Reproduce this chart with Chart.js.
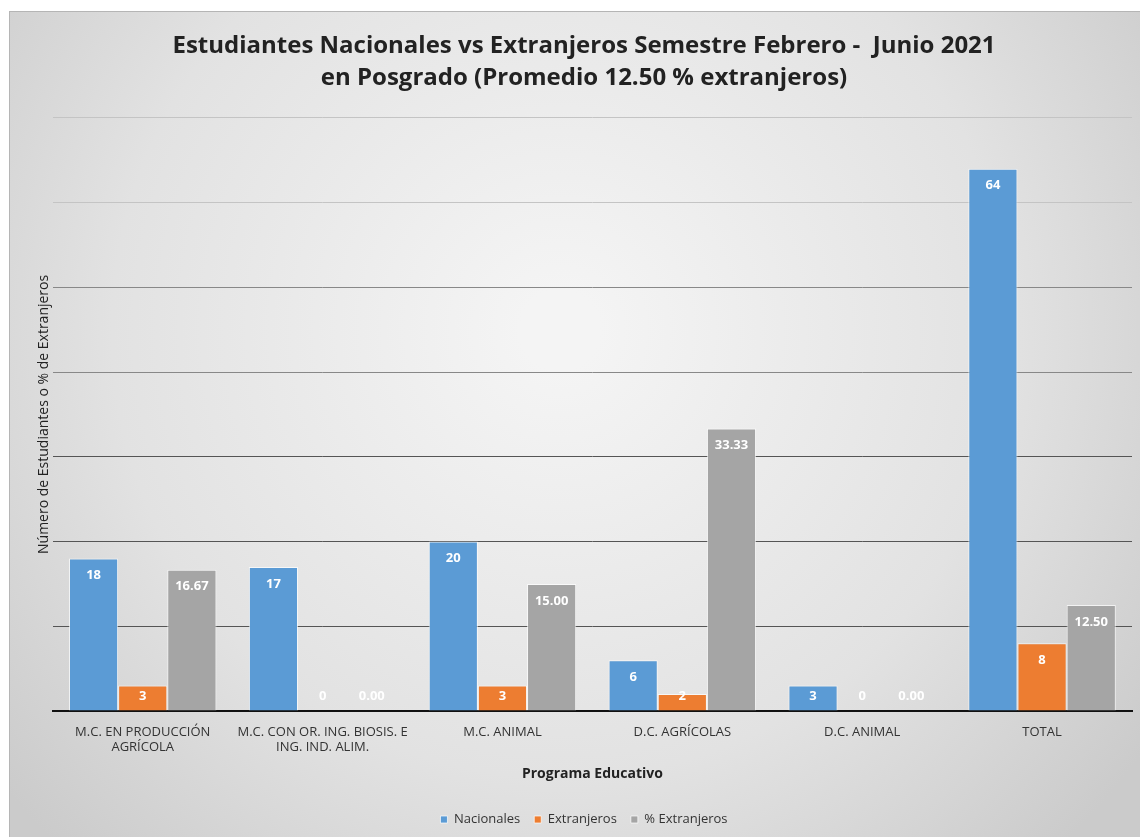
<!DOCTYPE html>
<html>
<head>
<meta charset="utf-8">
<script src="https://cdn.jsdelivr.net/npm/chart.js@4.4.0/dist/chart.umd.min.js"></script>
<style>
  html, body { margin: 0; padding: 0; background: #fff; }
  #wrap { width: 1140px; height: 837px; }
</style>
</head>
<body>
<div id="wrap"><canvas id="chart" width="1140" height="837"></canvas></div>
<script>
const programas = [
    ['M.C. EN PRODUCCIÓN', 'AGRÍCOLA'],
    ['M.C. CON OR. ING. BIOSIS. E', 'ING. IND. ALIM.'],
    'M.C. ANIMAL',
    'D.C. AGRÍCOLAS',
    'D.C. ANIMAL',
    'TOTAL'
];
const nacionales = [18, 17, 20, 6, 3, 64];
const extranjeros = [3, 0, 3, 2, 0, 8];
const pctExtranjeros = [16.67, 0, 15.00, 33.33, 0, 12.50];

const FONT = '"Open Sans", "Noto Sans", sans-serif';

// fondo gris con degradado y marco
const fondo = {
    id: 'fondo',
    beforeDraw(chart) {
        const c = chart.ctx;
        c.save();
        c.fillStyle = '#ffffff';
        c.fillRect(0, 0, chart.width, chart.height);
        const g = c.createRadialGradient(560, 330, 40, 560, 330, 720);
        g.addColorStop(0, '#f4f4f4');
        g.addColorStop(0.6, '#e2e2e2');
        g.addColorStop(1, '#cbcbcb');
        c.fillStyle = g;
        c.fillRect(9, 11, 1131, 826);
        c.strokeStyle = '#b5b5b5';
        c.lineWidth = 1;
        c.strokeRect(9.5, 11.5, 1131, 826);
        c.restore();
    }
};

// etiquetas de valor dentro de las barras
const etiquetas = {
    id: 'etiquetas',
    afterDatasetsDraw(chart) {
        const c = chart.ctx;
        const base = chart.scales.y.getPixelForValue(0);
        c.save();
        c.font = 'bold 13px ' + FONT;
        c.fillStyle = '#ffffff';
        c.textAlign = 'center';
        c.textBaseline = 'middle';
        chart.data.datasets.forEach((ds, i) => {
            chart.getDatasetMeta(i).data.forEach((bar, j) => {
                const v = ds.data[j];
                const txt = i === 2 ? v.toFixed(2) : String(v);
                const y = Math.min(bar.y + 17, base - 15);
                c.fillText(txt, bar.x, y);
            });
        });
        c.restore();
    }
};

const ctx = document.getElementById('chart').getContext('2d');
const chart = new Chart(ctx, {
    type: 'bar',
    data: {
        labels: programas,
        datasets: [{
            label: 'Nacionales',
            data: nacionales,
            backgroundColor: '#5b9bd5',
            borderColor: 'rgba(255,255,255,0.7)',
            borderWidth: 1
        }, {
            label: 'Extranjeros',
            data: extranjeros,
            backgroundColor: '#ed7d31',
            borderColor: 'rgba(255,255,255,0.7)',
            borderWidth: 1
        }, {
            label: '% Extranjeros',
            data: pctExtranjeros,
            backgroundColor: '#a5a5a5',
            borderColor: 'rgba(255,255,255,0.7)',
            borderWidth: 1
        }]
    },
    options: {
        responsive: false,
        animation: false,
        layout: { padding: { left: 36, right: 8, top: 14, bottom: 1 } },
        datasets: { bar: { categoryPercentage: 0.82, barPercentage: 1 } },
        plugins: {
            title: {
                display: true,
                text: ['Estudiantes Nacionales vs Extranjeros Semestre Febrero -  Junio 2021',
                       'en Posgrado (Promedio 12.50 % extranjeros)'],
                color: '#222',
                font: { family: FONT, size: 24, weight: 'bold', lineHeight: 1.35 },
                padding: { top: 16, bottom: 23 }
            },
            legend: {
                position: 'bottom',
                labels: {
                    color: '#333',
                    font: { family: FONT, size: 13 },
                    usePointStyle: true,
                    pointStyle: 'rect',
                    boxWidth: 7,
                    boxHeight: 7,
                    padding: 14
                }
            },
            tooltip: { enabled: false }
        },
        scales: {
            x: {
                grid: { display: false },
                border: { color: '#111', width: 2 },
                ticks: { color: '#333', font: { family: FONT, size: 13 }, maxRotation: 0, padding: 5 },
                title: {
                    display: true,
                    text: 'Programa Educativo',
                    color: '#222',
                    font: { family: FONT, size: 14, weight: 'bold' },
                    padding: { top: 5, bottom: 17 }
                }
            },
            y: {
                min: 0,
                max: 70,
                ticks: { display: false, stepSize: 10 },
                border: { display: false },
                grid: {
                    drawTicks: false,
                    color: c => c.tick.value <= 30 ? '#555' : (c.tick.value <= 50 ? '#888' : '#c4c4c4'),
                    lineWidth: 1
                },
                title: {
                    display: true,
                    text: 'Número de Estudiantes o % de Extranjeros',
                    color: '#222',
                    font: { family: FONT, size: 14 },
                    padding: { top: 0, bottom: 0 }
                }
            }
        }
    },
    plugins: [fondo, etiquetas]
});
</script>
</body>
</html>
